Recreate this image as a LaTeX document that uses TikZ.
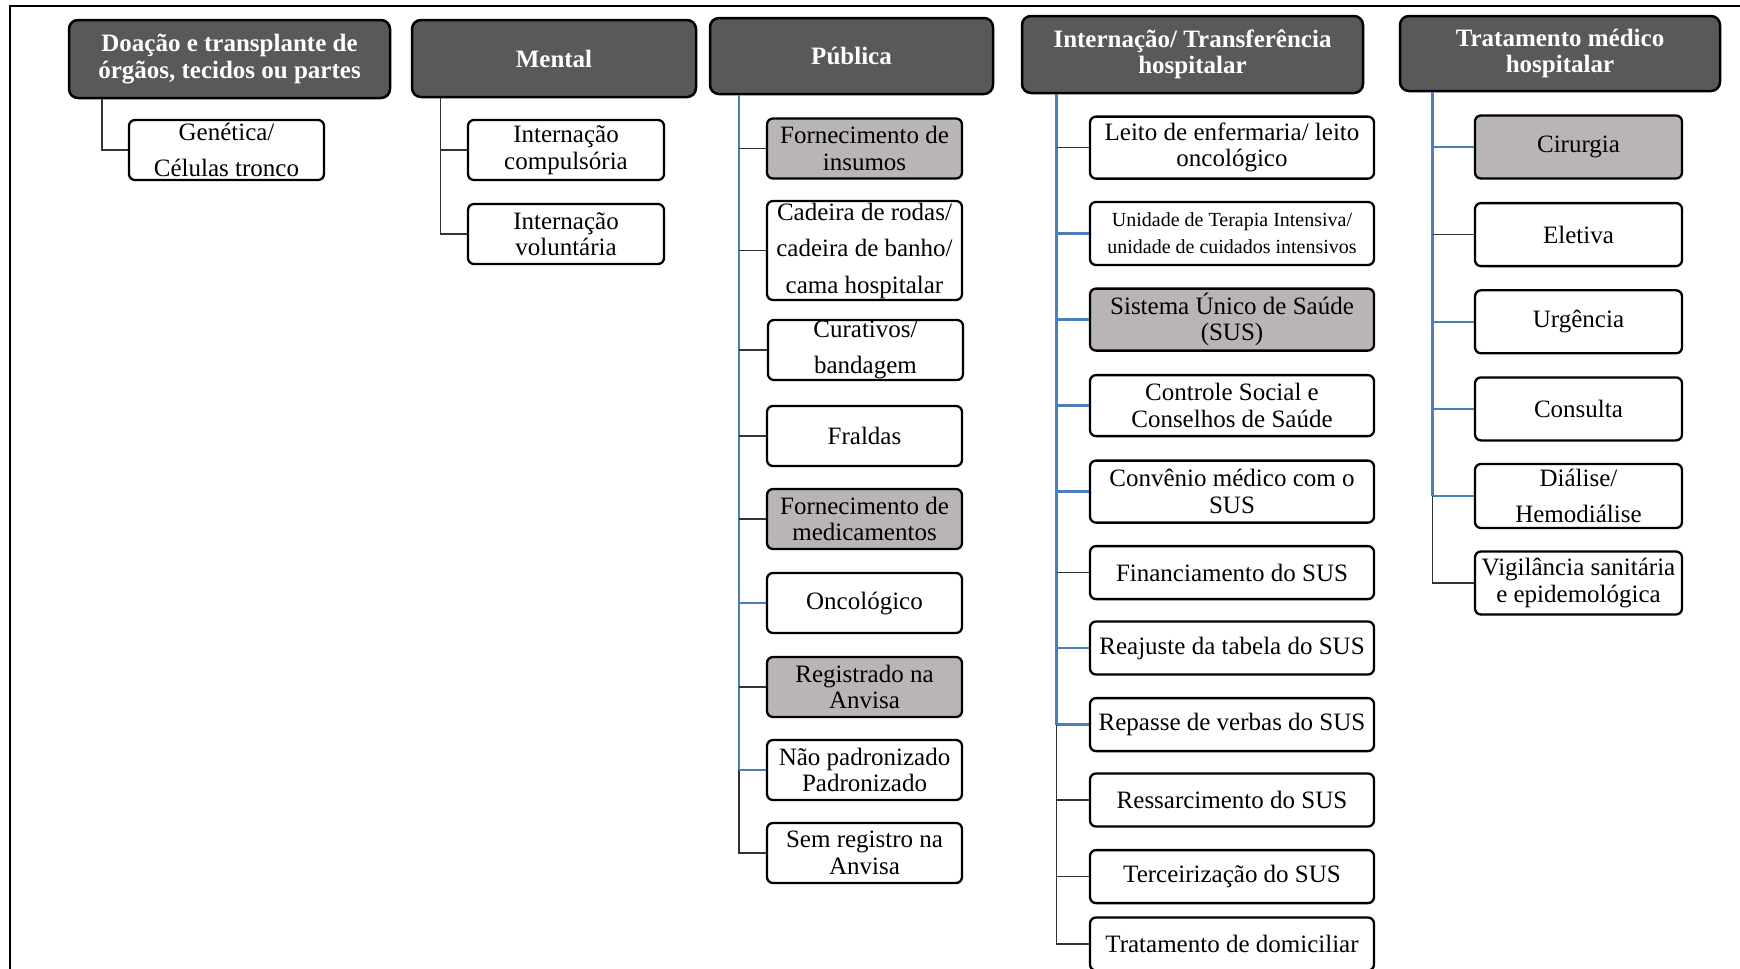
\documentclass[tikz,border=0pt]{standalone}
\usepackage{fontspec}
\setmainfont{Liberation Serif}
\definecolor{hdrgray}{HTML}{595959}
\definecolor{leafgray}{HTML}{B8B5B4}
\definecolor{lnblue}{HTML}{4A7EBB}
\definecolor{lndark}{HTML}{333333}
\tikzset{
  hdr/.style={draw=black, line width=2.5pt, rounded corners=9pt, fill=hdrgray, text=white,
    font=\bfseries\fontsize{25}{26.5}\selectfont, align=center, inner sep=0pt},
  leaf/.style={draw=black, line width=2.3pt, rounded corners=6pt, fill=white,
    font=\fontsize{25}{26.5}\selectfont, align=center, inner sep=0pt},
  gleaf/.style={leaf, fill=leafgray},
  smallleaf/.style={leaf, font=\fontsize{20}{27}\selectfont},
  blk/.style={draw=lndark, line width=1.6pt},
  blu/.style={draw=lnblue, line width=2.4pt},
  frame/.style={draw=black, line width=2pt}
}
\begin{document}
\begin{tikzpicture}[x=1pt,y=-1pt]
\useasboundingbox (0,0) rectangle (1740,969);
\draw[frame] (10,975) -- (10,5.5) -- (1745,5.5);

% headers
\node[hdr, minimum width=321pt, minimum height=78pt] (h1) at (229.5,59) {Doação e transplante de\\órgãos, tecidos ou partes};
\node[hdr, minimum width=284pt, minimum height=77pt] (h2) at (554,58.5) {Mental};
\node[hdr, minimum width=283pt, minimum height=76pt] (h3) at (851.5,56) {Pública};
\node[hdr, minimum width=341pt, minimum height=77pt] (h4) at (1192.5,54.5) {Internação/ Transferência\\hospitalar};
\node[hdr, minimum width=320pt, minimum height=75pt] (h5) at (1560,53.5) {Tratamento médico\\hospitalar};

% Doação
\node[leaf, minimum width=195pt, minimum height=60pt] (d1) at (226.5,150) {Genética/\\[9pt]Células tronco};
\coordinate (td) at (102,0);
\draw[blk] (td |- h1.south) |- (d1.west);

% Mental
\node[leaf, minimum width=196pt, minimum height=60pt] (m1) at (566,150) {Internação\\compulsória};
\node[leaf, minimum width=196pt, minimum height=60pt] (m2) at (566,234) {Internação\\voluntária};
\coordinate (tm) at (440.5,0);
\draw[blk] (tm |- h2.south) |- (m2.west);
\draw[blk] (tm |- m1.west) -- (m1.west);

% Pública
\tikzset{pl/.style={minimum width=195pt, minimum height=60pt}}
\node[gleaf, pl] (p1) at (864.5,148.5) {Fornecimento de\\insumos};
\node[leaf, pl, minimum height=99pt] (p2) at (864.5,250.5) {Cadeira de rodas/\\[10pt]cadeira de banho/\\[10pt]cama hospitalar};
\node[leaf, pl] (p3) at (865.5,350) {Curativos/\\[10pt]bandagem};
\node[leaf, pl] (p4) at (864.5,436) {Fraldas};
\node[gleaf, pl] (p5) at (864.5,519) {Fornecimento de\\medicamentos};
\node[leaf, pl] (p6) at (864.5,603) {Oncológico};
\node[gleaf, pl] (p7) at (864.5,687) {Registrado na\\Anvisa};
\node[leaf, pl] (p8) at (864.5,770) {Não padronizado\\Padronizado};
\node[leaf, pl] (p9) at (864.5,853) {Sem registro na\\Anvisa};
\coordinate (tp) at (739,0);
\draw[blk] (tp |- p8.west) |- (p9.west);
\draw[blu] (tp |- h3.south) -- (tp |- p8.west);
\draw[blk] (tp |- p1.west) -- (p1.west);
\draw[blk] (tp |- p2.west) -- (p2.west);
\draw[blk] (tp |- p3.west) -- (p3.west);
\draw[blk] (tp |- p4.west) -- (p4.west);
\draw[blk] (tp |- p5.west) -- (p5.west);
\draw[blu] (tp |- p6.west) -- (p6.west);
\draw[blk] (tp |- p7.west) -- (p7.west);
\draw[blu] (tp |- p8.west) -- (p8.west);

% Internação
\tikzset{il/.style={minimum width=284pt, minimum height=62pt}, is/.style={minimum width=284pt, minimum height=53pt}}
\node[leaf, il] (i1) at (1232,147.6) {Leito de enfermaria/ leito\\oncológico};
\node[smallleaf, il, minimum height=63pt] (i2) at (1232,233.5) {Unidade de Terapia Intensiva/\\unidade de cuidados intensivos};
\node[gleaf, il] (i3) at (1232,319.6) {Sistema Único de Saúde\\(SUS)};
\node[leaf, il, minimum height=61pt] (i4) at (1232,405.6) {Controle Social e\\Conselhos de Saúde};
\node[leaf, il] (i5) at (1232,491.6) {Convênio médico com o\\SUS};
\node[leaf, is] (i6) at (1232,572.6) {Financiamento do SUS};
\node[leaf, is] (i7) at (1232,648) {Reajuste da tabela do SUS};
\node[leaf, is] (i8) at (1232,724.6) {Repasse de verbas do SUS};
\node[leaf, is] (i9) at (1232,800) {Ressarcimento do SUS};
\node[leaf, is] (i10) at (1232,876.6) {Terceirização do SUS};
\node[leaf, is] (i11) at (1232,944) {Tratamento de domiciliar};
\coordinate (ti) at (1056.5,0);
\draw[blk] (ti |- i8.west) |- (i11.west);
\draw[blu] (ti |- h4.south) -- (ti |- i8.west);
\draw[blk] (ti |- i1.west) -- (i1.west);
\draw[blu] (ti |- i2.west) -- (i2.west);
\draw[blu] (ti |- i3.west) -- (i3.west);
\draw[blu] (ti |- i4.west) -- (i4.west);
\draw[blu] (ti |- i5.west) -- (i5.west);
\draw[blk] (ti |- i6.west) -- (i6.west);
\draw[blu] (ti |- i7.west) -- (i7.west);
\draw[blu] (ti |- i8.west) -- (i8.west);
\draw[blk] (ti |- i9.west) -- (i9.west);
\draw[blk] (ti |- i10.west) -- (i10.west);

% Tratamento
\tikzset{tl/.style={minimum width=207pt, minimum height=63pt}}
\node[gleaf, tl] (t1) at (1578.5,147) {Cirurgia};
\node[leaf, tl] (t2) at (1578.5,234.6) {Eletiva};
\node[leaf, tl] (t3) at (1578.5,321.8) {Urgência};
\node[leaf, tl] (t4) at (1578.5,408.9) {Consulta};
\node[leaf, tl, minimum height=64pt] (t5) at (1578.5,496) {Diálise/\\[9pt]Hemodiálise};
\node[leaf, tl] (t6) at (1578.5,583) {Vigilância sanitária\\e epidemológica};
\coordinate (tt) at (1432.6,0);
\draw[blk] (tt |- t5.west) |- (t6.west);
\draw[blu] (tt |- h5.south) -- (tt |- t5.west);
\draw[blu] (tt |- t1.west) -- (t1.west);
\draw[blk] (tt |- t2.west) -- (t2.west);
\draw[blu] (tt |- t3.west) -- (t3.west);
\draw[blu] (tt |- t4.west) -- (t4.west);
\draw[blu] (tt |- t5.west) -- (t5.west);
\end{tikzpicture}
\end{document}
